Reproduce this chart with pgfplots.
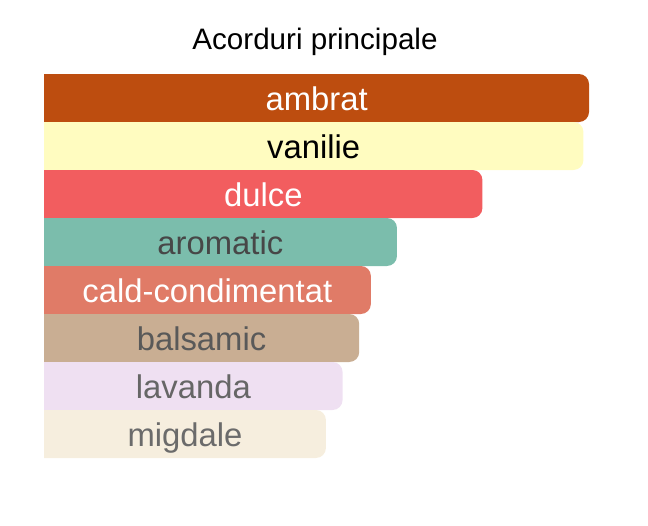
\documentclass[border=0pt]{standalone}
\usepackage{fontspec}
\setmainfont{Liberation Sans}
\usepackage{pgfplots}
\pgfplotsset{compat=1.18}

\definecolor{cambrat}{HTML}{BD4D0F}
\definecolor{cvanilie}{HTML}{FFFCC0}
\definecolor{cdulce}{HTML}{F25D5F}
\definecolor{caromatic}{HTML}{7BBDAC}
\definecolor{ccald}{HTML}{E07B67}
\definecolor{cbalsamic}{HTML}{C9AE93}
\definecolor{clavanda}{HTML}{EFE0F2}
\definecolor{cmigdale}{HTML}{F6EEDE}

\begin{document}
\begin{tikzpicture}[lbl/.style={anchor=base, font=\fontsize{32.8bp}{34bp}\selectfont}]
\useasboundingbox (0,0) rectangle (648bp,526bp);
\node[anchor=base, font=\fontsize{29.6bp}{32bp}\selectfont] at (315bp,476.5bp) {Acorduri principale};
\begin{scope}
% hide the rounded left ends of the bars
\clip (44bp,0bp) rectangle (648bp,526bp);
\begin{axis}[
    at={(34bp,68bp)}, anchor=south west,
    scale only axis,
    width=555bp, height=384bp,
    xmin=0, xmax=100,
    ymin=0.5, ymax=8.5,
    y dir=reverse,
    axis lines=none,
    clip=false,
    xbar,
    bar width=48bp,
    every axis plot/.append style={draw=none, bar shift=0pt, rounded corners=10bp},
]
% bars: value of each accord (top to bottom)
\addplot[fill=cambrat]   coordinates {(100,1)};
\addplot[fill=cvanilie]  coordinates {(99.0,2)};
\addplot[fill=cdulce]    coordinates {(80.8,3)};
\addplot[fill=caromatic] coordinates {(65.4,4)};
\addplot[fill=ccald]     coordinates {(60.7,5)};
\addplot[fill=cbalsamic] coordinates {(58.6,6)};
\addplot[fill=clavanda]  coordinates {(55.6,7)};
\addplot[fill=cmigdale]  coordinates {(52.6,8)};

% labels in the middle of each bar
\node[lbl, text=white]    at (axis cs:50.93,1.25) {ambrat};
\node[lbl, text=black]    at (axis cs:50.39,2.25) {vanilie};
\node[lbl, text=white]    at (axis cs:41.32,3.25) {dulce};
\node[lbl, text=black!72] at (axis cs:33.58,4.25) {aromatic};
\node[lbl, text=white]    at (axis cs:31.23,5.25) {cald-condimentat};
\node[lbl, text=black!65] at (axis cs:30.18,6.25) {balsamic};
\node[lbl, text=black!60] at (axis cs:28.71,7.25) {lavanda};
\node[lbl, text=black!58] at (axis cs:27.21,8.25) {migdale};
\end{axis}
\end{scope}
\end{tikzpicture}
\end{document}
